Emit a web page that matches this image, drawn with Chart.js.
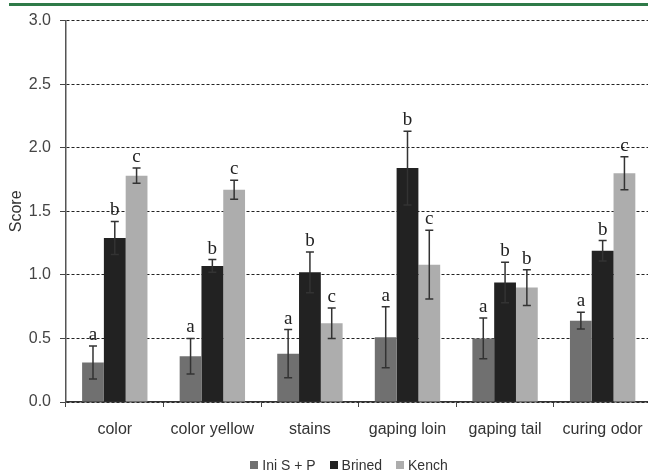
<!DOCTYPE html>
<html>
<head>
<meta charset="utf-8">
<script src="https://cdn.jsdelivr.net/npm/chart.js@4.4.1/dist/chart.umd.min.js"></script>
<style>
  html, body { margin: 0; padding: 0; background: #fff; overflow: hidden; }
  body { width: 648px; height: 471px; position: relative; }
  #rule { position: absolute; left: 9px; top: 3px; width: 640px; height: 3px; background: #2f7a48; }
  #wrap { position: absolute; left: 0; top: 2px; width: 656px; height: 469px; }
  #legend { position: absolute; left: 0; top: 456px; width: 698px; height: 18px;
            display: flex; justify-content: center; align-items: center;
            font: 14px "Liberation Sans", Arial, sans-serif; color: #333; }
  #legend .item { display: flex; align-items: center; margin: 0 7px; }
  #legend .box { width: 8px; height: 8px; margin-right: 4px; }
</style>
</head>
<body>
<div id="rule"></div>
<div id="wrap"><canvas id="c"></canvas></div>
<div id="legend"></div>
<script>
// Sensory attributes scored for each curing method
const categories = ['color', 'color yellow', 'stains', 'gaping loin', 'gaping tail', 'curing odor'];

const iniValues    = [0.31, 0.36, 0.38, 0.51, 0.50, 0.64];
const iniErrors    = [0.13, 0.14, 0.19, 0.24, 0.16, 0.065];
const iniLetters   = ['a', 'a', 'a', 'a', 'a', 'a'];

const brinedValues  = [1.29, 1.07, 1.02, 1.84, 0.94, 1.19];
const brinedErrors  = [0.13, 0.05, 0.16, 0.29, 0.16, 0.08];
const brinedLetters = ['b', 'b', 'b', 'b', 'b', 'b'];

const kenchValues  = [1.78, 1.67, 0.62, 1.08, 0.90, 1.80];
const kenchErrors  = [0.06, 0.075, 0.12, 0.27, 0.14, 0.13];
const kenchLetters = ['c', 'c', 'c', 'c', 'b', 'c'];

const yTicks = [0, 0.5, 1.0, 1.5, 2.0, 2.5, 3.0];

const series = [
  { label: 'Ini S + P', data: iniValues,    err: iniErrors,    letters: iniLetters,    color: '#707070' },
  { label: 'Brined',    data: brinedValues, err: brinedErrors, letters: brinedLetters, color: '#222222' },
  { label: 'Kench',     data: kenchValues,  err: kenchErrors,  letters: kenchLetters,  color: '#adadad' }
];

// Legend row under the axis
const legendEl = document.getElementById('legend');
series.forEach(s => {
  const item = document.createElement('div');
  item.className = 'item';
  const box = document.createElement('span');
  box.className = 'box';
  box.style.background = s.color;
  const txt = document.createElement('span');
  txt.textContent = s.label;
  item.appendChild(box);
  item.appendChild(txt);
  legendEl.appendChild(item);
});

// Error bars with caps, plus significance letters above each bar
const errorBars = {
  id: 'errorBars',
  afterDatasetsDraw(chart) {
    const ctx = chart.ctx;
    const y = chart.scales.y;
    chart.data.datasets.forEach((ds, di) => {
      const meta = chart.getDatasetMeta(di);
      meta.data.forEach((bar, i) => {
        const v = ds.data[i], e = ds.err[i];
        const top = y.getPixelForValue(v + e);
        const bot = y.getPixelForValue(v - e);
        const x = bar.x;
        ctx.save();
        ctx.strokeStyle = '#333';
        ctx.lineWidth = 1.5;
        ctx.beginPath();
        ctx.moveTo(x, top); ctx.lineTo(x, bot);
        ctx.moveTo(x - 4, top); ctx.lineTo(x + 4, top);
        ctx.moveTo(x - 4, bot); ctx.lineTo(x + 4, bot);
        ctx.stroke();
        ctx.fillStyle = '#222';
        ctx.font = '19px "Liberation Serif", "DejaVu Serif", serif';
        ctx.textAlign = 'center';
        ctx.textBaseline = 'alphabetic';
        ctx.fillText(ds.letters[i], x, top - 6);
        ctx.restore();
      });
    });
  }
};

new Chart(document.getElementById('c'), {
  type: 'bar',
  data: {
    labels: categories,
    datasets: series.map(s => ({
      label: s.label,
      data: s.data,
      err: s.err,
      letters: s.letters,
      backgroundColor: s.color,
      borderWidth: 0,
      categoryPercentage: 0.67,
      barPercentage: 1.0
    }))
  },
  options: {
    responsive: true,
    maintainAspectRatio: false,
    animation: false,
    layout: { padding: { top: 5, right: 4, left: 0, bottom: 0 } },
    plugins: {
      legend: { display: false },
      tooltip: { enabled: false }
    },
    scales: {
      x: {
        afterFit(scale) { scale.height = 69; },
        grid: { display: true, drawOnChartArea: false, offset: true, tickLength: 5, color: '#444', tickColor: '#444' },
        border: { display: true, color: '#333', width: 1.5 },
        ticks: { color: '#333', padding: 13, font: { family: '"Liberation Sans", Arial, sans-serif', size: 16 } }
      },
      y: {
        min: 0, max: 3,
        afterFit(scale) { scale.width = 66; },
        afterBuildTicks(axis) { axis.ticks = yTicks.map(v => ({ value: v })); },
        grid: { color: '#222', lineWidth: 1, tickBorderDash: [], tickLength: 6, tickColor: '#444' },
        border: { display: true, color: '#555', width: 1.5, dash: [3, 2] },
        ticks: {
          color: '#444', padding: 9,
          font: { family: '"Liberation Sans", Arial, sans-serif', size: 16 },
          callback: v => Number(v).toFixed(1)
        },
        title: { display: true, text: 'Score', color: '#333', padding: { top: 7, bottom: 0 },
                 font: { family: '"Liberation Sans", Arial, sans-serif', size: 16 } }
      }
    }
  },
  plugins: [errorBars]
});
</script>
</body>
</html>
